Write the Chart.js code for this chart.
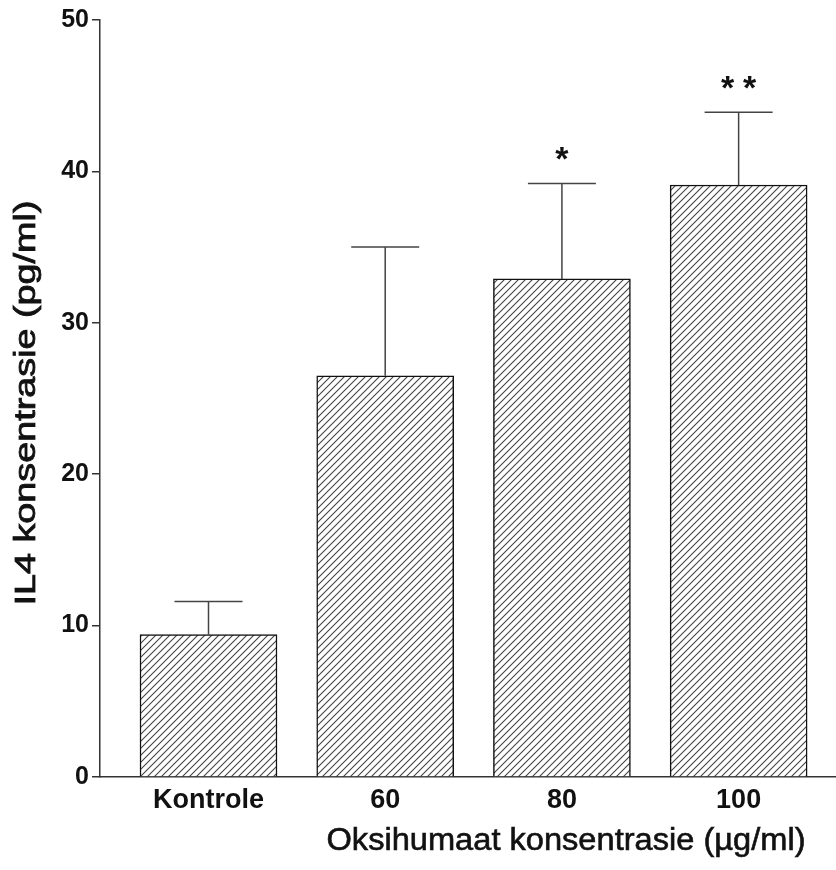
<!DOCTYPE html>
<html>
<head>
<meta charset="utf-8">
<script src="https://cdn.jsdelivr.net/npm/chart.js@4.4.1/dist/chart.umd.min.js"></script>
<style>
  html, body { margin: 0; padding: 0; background: #fff; }
</style>
</head>
<body>
<canvas id="chart" width="836" height="870"></canvas>
<script>
// Chart values
const categories = ['Kontrole', '60', '80', '100'];
const meanValues = [9.4, 26.5, 32.9, 39.1];
const semValues = [2.2, 8.5, 6.3, 4.8];
const significance = ['', '', '*', '**'];
const yTickValues = [0, 10, 20, 30, 40, 50];
const xTitle = 'Oksihumaat konsentrasie (\u00b5g/ml)';
const yTitle = 'IL4 konsentrasie (pg/ml)';

// Diagonal hatching used for every bar
function makeHatch() {
    const c = document.createElement('canvas');
    c.width = 7;
    c.height = 7;
    const g = c.getContext('2d');
    g.fillStyle = '#fff';
    g.fillRect(0, 0, 7, 7);
    g.strokeStyle = '#444';
    g.lineWidth = 1.1;
    g.beginPath();
    g.moveTo(0, 7); g.lineTo(7, 0);
    g.moveTo(-1, 1); g.lineTo(1, -1);
    g.moveTo(6, 8); g.lineTo(8, 6);
    g.stroke();
    return g.createPattern(c, 'repeat');
}

// Error bars, significance stars and the two axis titles
const extras = {
    id: 'extras',
    afterDatasetsDraw(chart) {
        const ctx = chart.ctx;
        const x = chart.scales.x;
        const y = chart.scales.y;
        ctx.save();
        ctx.strokeStyle = '#444';
        ctx.lineWidth = 1.5;
        meanValues.forEach((m, i) => {
            const px = x.getPixelForValue(i);
            const yb = y.getPixelForValue(m);
            const yt = y.getPixelForValue(m + semValues[i]);
            ctx.beginPath();
            ctx.moveTo(px, yb);
            ctx.lineTo(px, yt);
            ctx.moveTo(px - 34, yt);
            ctx.lineTo(px + 34, yt);
            ctx.stroke();

            const s = significance[i];
            if (s) {
                ctx.fillStyle = '#111';
                ctx.font = 'bold 34px "Liberation Sans", Arial, sans-serif';
                ctx.textAlign = 'center';
                ctx.textBaseline = 'alphabetic';
                const mt = ctx.measureText('*');
                const cy = yt - 30 + (mt.actualBoundingBoxAscent - mt.actualBoundingBoxDescent) / 2;
                for (let k = 0; k < s.length; k++) {
                    ctx.fillText('*', px + (k - (s.length - 1) / 2) * 22, cy);
                }
            }
        });
        ctx.restore();
    },
    afterDraw(chart) {
        const ctx = chart.ctx;
        ctx.save();
        ctx.fillStyle = '#111';
        ctx.textAlign = 'center';
        ctx.textBaseline = 'middle';

        ctx.font = '31px "Liberation Sans", Arial, sans-serif';
        let w = ctx.measureText(xTitle).width;
        ctx.save();
        ctx.translate(566, 841);
        ctx.scale(479 / w, 1);
        ctx.lineWidth = 0.6;
        ctx.strokeStyle = '#111';
        ctx.strokeText(xTitle, 0, 0);
        ctx.fillText(xTitle, 0, 0);
        ctx.restore();

        ctx.font = '30px "Liberation Sans", Arial, sans-serif';
        w = ctx.measureText(yTitle).width;
        ctx.save();
        ctx.translate(27, 403);
        ctx.rotate(-Math.PI / 2);
        ctx.scale(405 / w, 1);
        ctx.lineWidth = 0.8;
        ctx.strokeStyle = '#111';
        ctx.strokeText(yTitle, 0, 0);
        ctx.fillText(yTitle, 0, 0);
        ctx.restore();

        ctx.restore();
    }
};

const ctx = document.getElementById('chart').getContext('2d');
const hatch = makeHatch();

new Chart(ctx, {
    type: 'bar',
    data: {
        datasets: [{
            data: meanValues.map((v, i) => ({ x: i, y: v })),
            backgroundColor: hatch,
            borderColor: '#111',
            borderWidth: 1.5,
            barThickness: 137
        }]
    },
    options: {
        responsive: false,
        animation: false,
        layout: { padding: { top: 20, left: 0, right: 0, bottom: 0 } },
        plugins: {
            legend: { display: false },
            tooltip: { enabled: false }
        },
        scales: {
            x: {
                type: 'linear',
                offset: false,
                min: -0.614,
                max: 3.551,
                afterBuildTicks: (scale) => { scale.ticks = categories.map((c, i) => ({ value: i })); },
                afterFit: (scale) => { scale.height = 93; },
                grid: { display: false, drawTicks: false },
                border: { display: true, color: '#333', width: 1.5 },
                ticks: {
                    callback: (v) => categories[v],
                    color: '#111',
                    font: { family: '"Liberation Sans", Arial, sans-serif', size: 27, weight: 'bold' },
                    padding: 7,
                    maxRotation: 0,
                    autoSkip: false
                }
            },
            y: {
                min: 0,
                max: 50,
                afterBuildTicks: (scale) => { scale.ticks = yTickValues.map(v => ({ value: v })); },
                afterFit: (scale) => { scale.width = 100; },
                grid: { drawOnChartArea: false, drawTicks: true, tickLength: 8, color: '#333', lineWidth: 1.5 },
                border: { display: true, color: '#333', width: 1.5 },
                ticks: {
                    color: '#111',
                    font: { family: '"Liberation Sans", Arial, sans-serif', size: 25, weight: 'bold' },
                    padding: 3
                }
            }
        }
    },
    plugins: [extras]
});
</script>
</body>
</html>
